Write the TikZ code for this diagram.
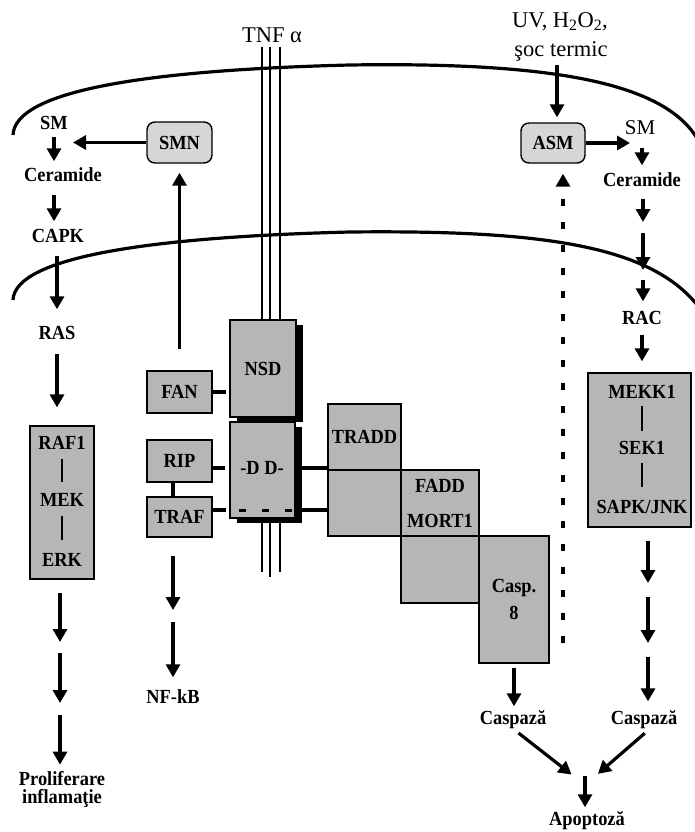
\documentclass[tikz,border=0pt]{standalone}
\usepackage{fontspec}
\setmainfont{Liberation Serif}
\newfontfamily\lblfont{Liberation Serif Bold}[FakeStretch=0.92]
\usetikzlibrary{arrows.meta,shadows}
\definecolor{boxgray}{RGB}{182,182,182}
\definecolor{rgray}{RGB}{214,214,214}
\begin{document}
\begin{tikzpicture}[x=1pt,y=-1pt,
  lab/.style={font=\lblfont\fontsize{20}{20}\selectfont, inner sep=0pt, text height=13pt, text depth=4pt},
  big/.style={font=\fontsize{22.5}{24}\selectfont, inner sep=0pt, text height=16pt, text depth=5pt},
  gbox/.style={draw, line width=1.2pt, fill=boxgray, inner sep=0pt, font=\lblfont\fontsize{20}{20}\selectfont},
  rbox/.style={gbox, fill=rgray, line width=1.4pt, rounded corners=8pt},
  shd/.style={general shadow={fill=black, shadow xshift=7pt, shadow yshift=-5pt}},
  arr/.style={line width=3.2pt, -{Triangle[length=13pt,width=14pt]}},
  conn/.style={line width=3.5pt},
  bar/.style={line width=1.6pt},
  memb/.style={line width=3.2pt},
  tnfl/.style={line width=1.2pt},
  dasharr/.style={line width=3.6pt, dash pattern=on 7pt off 16pt, -{Triangle[length=13pt,width=14pt]}},
]
\useasboundingbox (0,0) rectangle (694,832);
\fill[white] (0,0) rectangle (694,832);

% membranes
\draw[memb] (13,135) .. controls (15,90) and (150,70) .. (350,65) .. controls (550,62) and (665,82) .. (698,140);
\draw[memb] (13,300) .. controls (15,257) and (150,237) .. (350,232) .. controls (540,230) and (650,245) .. (698,306);

% TNF receptor lines
\coordinate (t1) at (262,47); \coordinate (t2) at (270,47); \coordinate (t3) at (280,47);
\coordinate (b1) at (262,572); \coordinate (b2) at (270,577); \coordinate (b3) at (280,572);
\draw[tnfl] (t1) -- (b1);
\draw[tnfl] (t2) -- (b2);
\draw[tnfl] (t3) -- (b3);

% top labels
\node[big] (tnf) at (272,37) {TNF α};
\node[big] (uv1) at (560,22) {UV, H\textsubscript{2}O\textsubscript{2},};
\node[big] (uv2) at (561,51) {şoc termic};

% rounded enzyme boxes
\node[rbox, minimum width=65pt, minimum height=41pt] (smn) at (179.5,142.5) {SMN};
\node[rbox, minimum width=64pt, minimum height=40pt] (asm) at (553,143) {ASM};

% left column
\node[lab] (smL) at (54,125) {SM};
\node[lab] (cerL) at (63,177) {Ceramide};
\node[lab] (capk) at (58,238) {CAPK};
\node[lab] (ras) at (57,335) {RAS};
\node[gbox, minimum width=64pt, minimum height=153pt] (erkbox) at (62,502.5) {};
\node[lab] (raf) at (62,445) {RAF1};
\node[lab] (mek) at (62,502) {MEK};
\node[lab] (erk) at (62,562) {ERK};
\node[font=\lblfont\fontsize{20}{18}\selectfont, inner sep=0pt, align=center] (prol) at (62,790) {Proliferare\\inflamaţie};

% middle boxes
\node[gbox, minimum width=65pt, minimum height=42pt] (fan) at (179.5,392) {FAN};
\node[gbox, minimum width=65pt, minimum height=42pt] (rip) at (179.5,461) {RIP};
\node[gbox, minimum width=65pt, minimum height=40pt] (traf) at (179.5,517) {TRAF};
\node[gbox, shd, minimum width=66pt, minimum height=97pt] (nsd) at (263,368.5) {NSD};
\node[gbox, shd, minimum width=65pt, minimum height=96pt] (dd) at (262.5,470) {};
\node[lab] (ddlab) at (262,470) {-D D-};
\coordinate (ddm) at (262,468);
\coordinate (ddb) at (262,510);
\draw[line width=3pt, dash pattern=on 7pt off 16pt] ([xshift=-23pt]ddb) -- ([xshift=30pt]ddb);
\node[lab] (nfkb) at (173,699) {NF-kB};

% TRADD / FADD / Casp8 staircase
\node[gbox, minimum width=73pt, minimum height=66pt] (tradd) at (364.5,437) {TRADD};
\node[gbox, minimum width=73pt, minimum height=66pt] (tradd2) at (364.5,503) {};
\node[gbox, minimum width=78pt, minimum height=66pt, align=center, font=\lblfont\fontsize{20}{35}\selectfont] (fadd) at (440,503) {FADD\\MORT1};
\node[gbox, minimum width=78pt, minimum height=67pt] (fadd2) at (440,569.5) {};
\node[gbox, minimum width=70pt, minimum height=127pt, align=center, font=\lblfont\fontsize{20}{27}\selectfont] (casp8) at (514,599.5) {Casp.\\8};

% right column
\node[big, font=\fontsize{21}{24}\selectfont] (smR) at (640,129) {SM};
\node[lab] (cerR) at (642,182) {Ceramide};
\node[lab] (rac) at (642,320) {RAC};
\node[gbox, minimum width=103pt, minimum height=154pt] (mbox) at (639.5,450) {};
\node[lab] (mekk) at (642,394) {MEKK1};
\node[lab] (sek) at (642,450) {SEK1};
\node[lab] (sapk) at (642,509) {SAPK/JNK};
\node[lab] (caspL) at (513,720) {Caspază};
\node[lab] (caspR) at (644,720) {Caspază};
\node[lab] (apop) at (587,821) {Apoptoză};

% ---- connectors, left
\draw[arr, shorten >=5pt] (smn.west) -- (smn.west -| smL.east);
\draw[arr, shorten <=21pt, shorten >=9pt] (smn.south |- fan.north) -- (smn.south);
\draw[arr, shorten <=3pt, shorten >=7pt] (smL.south) -- (smL.south |- cerL.north);
\draw[arr, shorten <=9pt, shorten >=8pt] (smL.south |- cerL.south) -- (smL.south |- capk.north);
\draw[arr, shorten <=9pt, shorten >=17pt] (ras.north |- capk.south) -- (ras.north);
\draw[arr, shorten <=10pt, shorten >=18pt] (ras.south) -- (ras.south |- erkbox.north);
\draw[bar, shorten <=5pt, shorten >=11pt] (raf.south) -- (mek.north);
\draw[bar, shorten <=5pt, shorten >=13pt] (mek.south) -- (erk.north);
\coordinate (l1) at (60,647);
\coordinate (l2) at (60,709);
\draw[arr, shorten <=13pt, shorten >=5pt] (l1 |- erkbox.south) -- (l1);
\draw[arr, shorten <=6pt, shorten >=6pt] (l1) -- (l2);
\draw[arr, shorten <=6pt, shorten >=7pt] (l2) -- (l2 |- prol.north);

% ---- connectors, middle
\draw[conn, shorten >=3pt] (fan.east) -- (fan.east -| nsd.west);
\draw[conn, shorten >=4pt] (rip.east |- ddm) -- (dd.west |- ddm);
\draw[conn, shorten >=3pt] (traf.east |- ddb) -- (dd.west |- ddb);
\draw[conn] (nfkb |- rip.south) -- (nfkb |- traf.north);
\draw[conn] (dd.east |- ddm) -- (tradd2.west |- ddm);
\draw[conn] (dd.east |- ddb) -- (tradd2.west |- ddb);
\coordinate (n1) at (173,616);
\draw[arr, shorten <=18pt, shorten >=6pt] (n1 |- traf.south) -- (n1);
\draw[arr, shorten <=6pt, shorten >=13pt] (n1) -- (nfkb.north);

% ---- connectors, right
\coordinate (uva) at ([xshift=4pt]asm.north);
\draw[arr, shorten <=3pt, shorten >=5pt] (uva |- uv2.south) -- (uva);
\draw[arr, shorten >=10pt] (asm.east) -- (asm.east -| smR);
\draw[arr, shorten <=8pt, shorten >=8pt] (cerR.north |- smR.south) -- (cerR.north);
\coordinate (r1) at (643,227.5);
\coordinate (r2) at (643,275);
\draw[arr, shorten <=8pt, shorten >=5.5pt] (r1 |- cerR.south) -- (r1);
\draw[arr, shorten <=5.5pt, shorten >=5pt] (r1) -- (r2);
\draw[arr, shorten <=5pt, shorten >=10pt] (r2) -- (r2 |- rac.north);
\draw[arr, shorten <=6pt, shorten >=11pt] (rac.south) -- (rac.south |- mbox.north);
\draw[line width=1.2pt, shorten <=3pt, shorten >=10pt] (mekk.south) -- (sek.north);
\draw[line width=1.2pt, shorten <=4pt, shorten >=13pt] (sek.south) -- (sapk.north);
\coordinate (q1) at (648,590);
\coordinate (q2) at (648,650);
\draw[arr, shorten <=13pt, shorten >=7pt] (q1 |- mbox.south) -- (q1);
\draw[arr, shorten <=7pt, shorten >=7pt] (q1) -- (q2);
\draw[arr, shorten <=7pt, shorten >=10pt] (q2) -- (q2 |- caspR.north);
\draw[arr, shorten <=4pt, shorten >=5pt] (casp8.south) -- (casp8.south |- caspL.north);
\coordinate (meet) at (585,785);
\coordinate (crs) at ([xshift=6pt]caspR.south);
\draw[arr, shorten <=7pt, shorten >=17pt] (caspL.south) -- (meet);
\draw[arr, shorten <=7pt, shorten >=17pt] (crs) -- (meet);
\coordinate (dtop) at (585,776);
\draw[arr, shorten >=5pt] (dtop) -- (dtop |- apop.north);
\coordinate (dbot) at (563,643);
\draw[dasharr, shorten >=10pt] (dbot) -- (dbot |- asm.south);
\end{tikzpicture}
\end{document}
